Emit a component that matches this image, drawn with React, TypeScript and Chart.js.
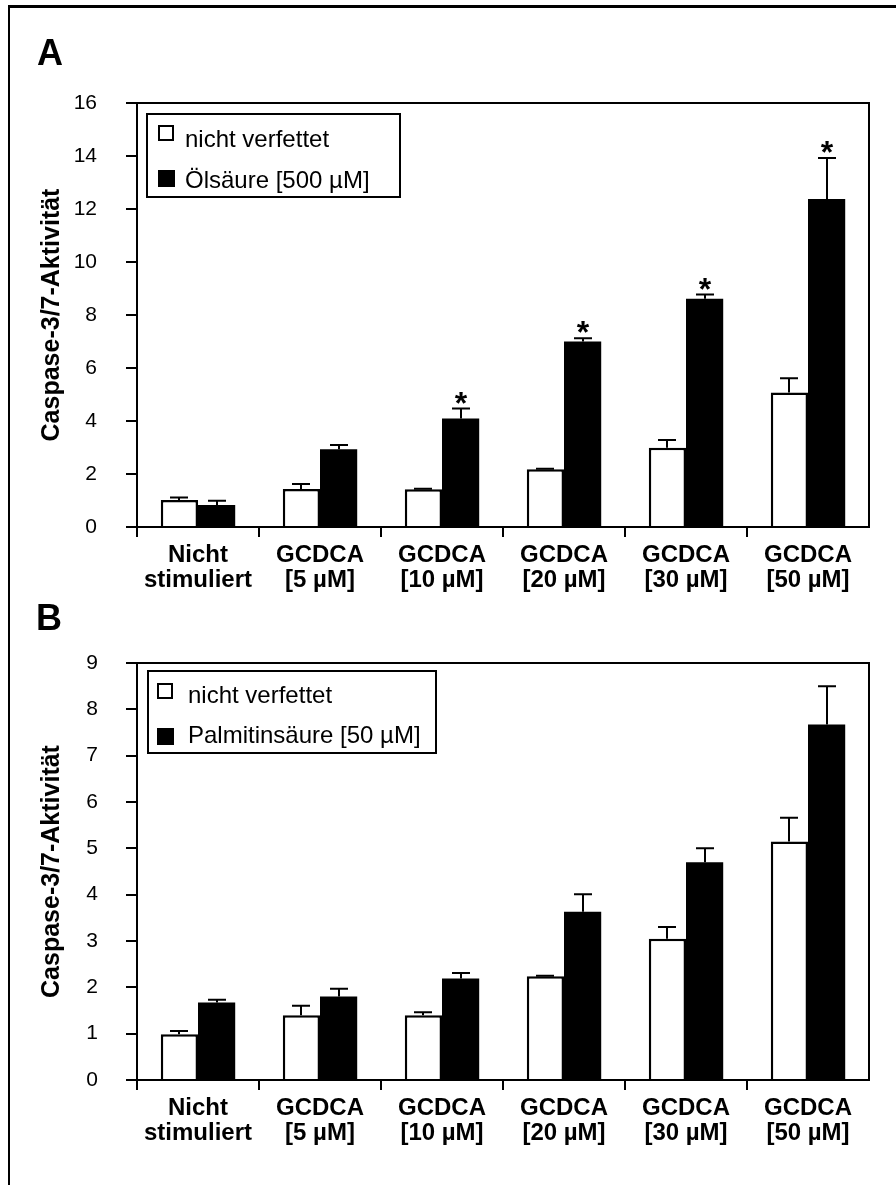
import React, { useEffect, useRef } from "react";
import { Chart, registerables } from "chart.js";

Chart.register(...registerables);

const FONT = "'Liberation Sans', Arial, Helvetica, sans-serif";

// ---------- data ----------
const categories: string[][] = [
  ["Nicht", "stimuliert"],
  ["GCDCA", "[5 µM]"],
  ["GCDCA", "[10 µM]"],
  ["GCDCA", "[20 µM]"],
  ["GCDCA", "[30 µM]"],
  ["GCDCA", "[50 µM]"],
];

const yAxisTitle = "Caspase-3/7-Aktivität";

// Panel A
const aLegend = ["nicht verfettet", "Ölsäure [500 µM]"];
const aControl = [1.02, 1.43, 1.42, 2.18, 2.99, 5.08];
const aControlErr = [0.09, 0.19, 0.02, 0.02, 0.29, 0.53];
const aOleic = [0.83, 2.93, 4.09, 7.0, 8.61, 12.38];
const aOleicErr = [0.16, 0.16, 0.38, 0.12, 0.16, 1.54];
const aStars = [false, false, true, true, true, true];
const aYMax = 16;
const aYStep = 2;

// Panel B
const bLegend = ["nicht verfettet", "Palmitinsäure [50 µM]"];
const bControl = [0.99, 1.4, 1.4, 2.24, 3.05, 5.15];
const bControlErr = [0.07, 0.2, 0.06, 0.01, 0.25, 0.51];
const bPalm = [1.67, 1.8, 2.19, 3.63, 4.7, 7.67];
const bPalmErr = [0.06, 0.17, 0.12, 0.38, 0.3, 0.83];
const bStars = [false, false, false, false, false, false];
const bYMax = 9;
const bYStep = 1;

type PanelCfg = {
  control: number[];
  controlErr: number[];
  treated: number[];
  treatedErr: number[];
  stars: boolean[];
  legend: string[];
  yMax: number;
  yStep: number;
  canvasHeight: number;
  padTop: number;
  plotBottom: number; // canvas-relative
  tickPad: number;
  lg: {
    dx: number; dy: number; w: number; h: number;
    sqx: number; sq1: number; sq2: number;
    tx: number; b1: number; b2: number;
  };
};

function makeOverlay(cfg: PanelCfg) {
  return {
    id: "overlay",
    afterDatasetsDraw(chart: any) {
      const ctx: CanvasRenderingContext2D = chart.ctx;
      const ys = chart.scales.y;
      const ca = chart.chartArea;
      const errs = [cfg.controlErr, cfg.treatedErr];
      ctx.save();
      ctx.strokeStyle = "#000";
      ctx.fillStyle = "#000";
      ctx.lineWidth = 2;
      ctx.lineCap = "butt";
      // error bars
      chart.data.datasets.forEach((ds: any, di: number) => {
        const meta = chart.getDatasetMeta(di);
        meta.data.forEach((bar: any, j: number) => {
          const v = ds.data[j];
          const e = errs[di][j];
          const x = Math.round(bar.x);
          const y0 = ys.getPixelForValue(v);
          const y1 = ys.getPixelForValue(v + e);
          ctx.beginPath();
          ctx.moveTo(x, y0);
          ctx.lineTo(x, y1);
          ctx.moveTo(x - 9, y1);
          ctx.lineTo(x + 9, y1);
          ctx.stroke();
          if (di === 1 && cfg.stars[j]) {
            ctx.font = `bold 32px ${FONT}`;
            ctx.textAlign = "center";
            ctx.textBaseline = "alphabetic";
            ctx.fillText("*", x, y1 + 5);
          }
        });
      });
      // plot frame
      ctx.strokeRect(ca.left, ca.top, ca.right - ca.left, ca.bottom - ca.top);
      // legend
      const L = cfg.lg;
      const lx = ca.left + L.dx;
      const ly = ca.top + L.dy;
      ctx.strokeRect(lx, ly, L.w, L.h);
      ctx.fillStyle = "#fff";
      ctx.fillRect(ca.left + L.sqx, ca.top + L.sq1, 16, 16);
      ctx.strokeRect(ca.left + L.sqx + 1, ca.top + L.sq1 + 1, 14, 14);
      ctx.fillStyle = "#000";
      ctx.fillRect(ca.left + L.sqx, ca.top + L.sq2, 17, 17);
      ctx.font = `24px ${FONT}`;
      ctx.textAlign = "left";
      ctx.textBaseline = "alphabetic";
      ctx.fillText(cfg.legend[0], ca.left + L.tx, ca.top + L.b1);
      ctx.fillText(cfg.legend[1], ca.left + L.tx, ca.top + L.b2);
      ctx.restore();
    },
  };
}

function buildConfig(cfg: PanelCfg): any {
  const n = categories.length;
  return {
    type: "bar",
    data: {
      labels: categories,
      datasets: [
        {
          label: cfg.legend[0],
          data: cfg.control,
          backgroundColor: "#ffffff",
          borderColor: "#000000",
          borderWidth: 2.5,
          borderSkipped: "bottom",
        },
        {
          label: cfg.legend[1],
          data: cfg.treated,
          backgroundColor: "#000000",
          borderColor: "#000000",
          borderWidth: 0,
        },
      ],
    },
    options: {
      animation: false,
      responsive: false,
      maintainAspectRatio: false,
      events: [],
      layout: { padding: { top: cfg.padTop, right: 27, left: 0, bottom: 0 } },
      datasets: { bar: { categoryPercentage: 0.61, barPercentage: 1.0 } },
      plugins: {
        legend: { display: false },
        tooltip: { enabled: false },
        title: { display: false },
      },
      scales: {
        x: {
          type: "category",
          offset: true,
          afterFit: (s: any) => {
            s.height = cfg.canvasHeight - cfg.plotBottom;
          },
          grid: {
            offset: true,
            drawOnChartArea: false,
            drawTicks: true,
            tickLength: 10,
            lineWidth: 2,
            color: (c: any) =>
              c.index === undefined || c.index >= n ? "rgba(0,0,0,0)" : "#000",
          },
          border: { display: true, color: "#000", width: 2 },
          ticks: {
            autoSkip: false,
            maxRotation: 0,
            minRotation: 0,
            padding: 6,
            color: "#000",
            font: { family: FONT, size: 24, weight: "bold", lineHeight: "25px" },
          },
        },
        y: {
          type: "linear",
          min: 0,
          max: cfg.yMax,
          afterFit: (s: any) => {
            s.width = 137;
          },
          grid: {
            drawOnChartArea: false,
            drawTicks: true,
            tickLength: 11,
            lineWidth: 2,
            color: "#000",
          },
          border: { display: true, color: "#000", width: 2 },
          ticks: {
            stepSize: cfg.yStep,
            padding: cfg.tickPad,
            color: "#000",
            font: { family: FONT, size: 21 },
          },
          title: {
            display: true,
            text: yAxisTitle,
            color: "#000",
            padding: { top: 37, bottom: 0 },
            font: { family: FONT, size: 25, weight: "bold", lineHeight: 1.2 },
          },
        },
      },
    },
    plugins: [makeOverlay(cfg)],
  };
}

function Panel({ top, cfg }: { top: number; cfg: PanelCfg }) {
  const ref = useRef<HTMLCanvasElement>(null);
  useEffect(() => {
    if (!ref.current) return;
    const chart = new Chart(ref.current, buildConfig(cfg));
    return () => chart.destroy();
  }, []);
  return (
    <canvas
      ref={ref}
      width={896}
      height={cfg.canvasHeight}
      style={{ position: "absolute", left: 0, top, display: "block", width: 896, height: cfg.canvasHeight }}
    />
  );
}

const panelA: PanelCfg = {
  control: aControl,
  controlErr: aControlErr,
  treated: aOleic,
  treatedErr: aOleicErr,
  stars: aStars,
  legend: aLegend,
  yMax: aYMax,
  yStep: aYStep,
  canvasHeight: 610,
  padTop: 103,
  plotBottom: 527,
  tickPad: 29,
  lg: { dx: 10, dy: 11, w: 253, h: 83, sqx: 21, sq1: 22, sq2: 67, tx: 48, b1: 44, b2: 85 },
};

const panelB: PanelCfg = {
  control: bControl,
  controlErr: bControlErr,
  treated: bPalm,
  treatedErr: bPalmErr,
  stars: bStars,
  legend: bLegend,
  yMax: bYMax,
  yStep: bYStep,
  canvasHeight: 575,
  padTop: 53,
  plotBottom: 470,
  tickPad: 28,
  lg: { dx: 11, dy: 8, w: 288, h: 82, sqx: 20, sq1: 20, sq2: 65, tx: 51, b1: 40, b2: 80 },
};

const letterStyle: React.CSSProperties = {
  position: "absolute",
  fontFamily: FONT,
  fontWeight: "bold",
  fontSize: 36,
  lineHeight: "36px",
  color: "#000",
  margin: 0,
};

export default function App() {
  return (
    <div style={{ position: "absolute", left: 0, top: 0, width: 896, height: 1185, background: "#fff", overflow: "hidden" }}>
      <div
        style={{
          position: "absolute",
          left: 8,
          top: 5,
          width: 900,
          height: 1200,
          borderTop: "3px solid #000",
          borderLeft: "2px solid #000",
          boxSizing: "border-box",
        }}
      />
      <Panel top={0} cfg={panelA} />
      <Panel top={610} cfg={panelB} />
      <div style={{ ...letterStyle, left: 37, top: 35 }}>A</div>
      <div style={{ ...letterStyle, left: 36, top: 600 }}>B</div>
    </div>
  );
}
